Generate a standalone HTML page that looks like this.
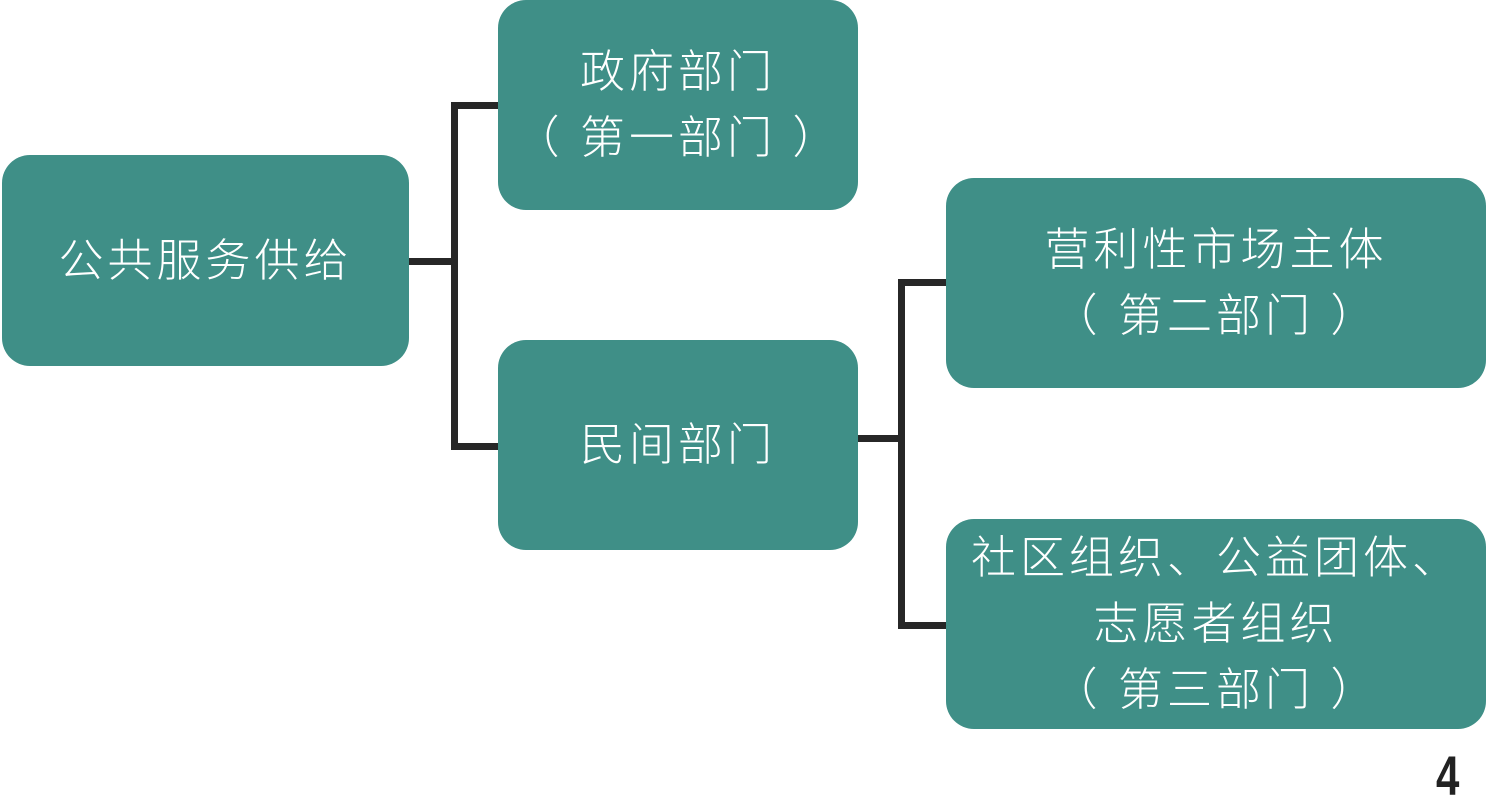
<!DOCTYPE html>
<html><head><meta charset="utf-8"><style>
body{margin:0;width:1488px;height:810px;background:#fff;position:relative;overflow:hidden;font-family:"Liberation Sans","Noto Sans CJK SC",sans-serif}
.b{position:absolute;background:#3f8f87;border-radius:28px;color:#fff;font-size:45px;line-height:66px;display:flex;align-items:center;justify-content:center;text-align:center;letter-spacing:4px;font-weight:300;white-space:nowrap}
.l{position:absolute;background:#272727}
</style></head><body>
<div class="b" style="left:2px;top:155px;width:407px;height:211px">公共服务供给</div>
<div class="b" style="left:498px;top:0;width:360px;height:210px">政府部门<br>（ 第一部门 ）</div>
<div class="b" style="left:498px;top:340px;width:360px;height:210px">民间部门</div>
<div class="b" style="left:946px;top:178px;width:540px;height:210px">营利性市场主体<br>（ 第二部门 ）</div>
<div class="b" style="left:946px;top:519px;width:540px;height:210px">社区组织、公益团体、<br>志愿者组织<br>（ 第三部门 ）</div>
<div class="l" style="left:409px;top:258px;width:48px;height:7px"></div>
<div class="l" style="left:451px;top:102px;width:7px;height:348px"></div>
<div class="l" style="left:451px;top:102px;width:47px;height:7px"></div>
<div class="l" style="left:451px;top:443px;width:47px;height:7px"></div>
<div class="l" style="left:858px;top:435px;width:46px;height:7px"></div>
<div class="l" style="left:898px;top:279px;width:7px;height:350px"></div>
<div class="l" style="left:898px;top:279px;width:48px;height:7px"></div>
<div class="l" style="left:898px;top:622px;width:48px;height:7px"></div>
<div style="position:absolute;left:1436px;top:746px;font-size:56px;line-height:60px;font-weight:bold;color:#222;transform:scaleX(0.75);transform-origin:left">4</div>
</body></html>
